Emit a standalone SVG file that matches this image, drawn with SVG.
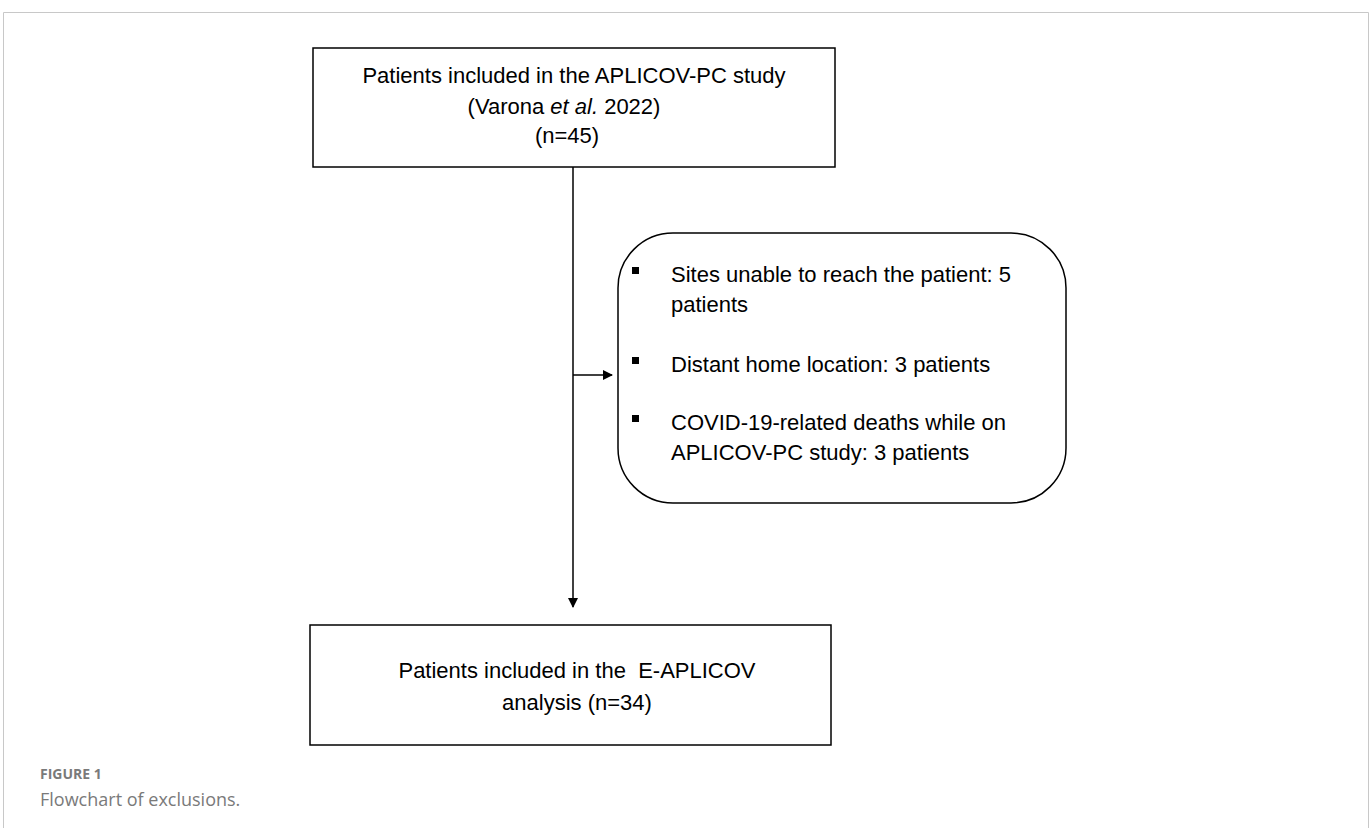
<svg xmlns="http://www.w3.org/2000/svg" width="1372" height="828" viewBox="0 0 1372 828">
<style>
.box{fill:#fff;stroke:#000;stroke-width:1.5}
.t{font-family:"Liberation Sans",Arial,sans-serif;font-size:22px;fill:#000}
.c{text-anchor:middle}
.ln{stroke:#000;stroke-width:1.5;fill:none}
</style>
<defs>
<marker id="ah" markerWidth="10" markerHeight="10" refX="9" refY="5" orient="auto" markerUnits="userSpaceOnUse">
<path d="M0,0 L10,5 L0,10 z" fill="#000"/>
</marker>
</defs>
<rect width="1372" height="828" fill="#fff"/>
<path d="M3.5,828 V12.5 H1368.5 V828" fill="none" stroke="#c8c8c8" stroke-width="1"/>
<g id="connectors">
<line class="ln" x1="573" y1="167" x2="573" y2="607" marker-end="url(#ah)"/>
<line class="ln" x1="573" y1="375" x2="612" y2="375" marker-end="url(#ah)"/>
</g>
<g id="node-top">
<rect class="box" x="313" y="48" width="522" height="119"/>
<text class="t c" x="574" y="83">Patients included in the APLICOV-PC study</text>
<text class="t c" x="564" y="114">(Varona <tspan font-style="italic">et al.</tspan> 2022)</text>
<text class="t c" x="567" y="143">(n=45)</text>
</g>
<g id="node-exclusions">
<rect class="box" x="618" y="233" width="448" height="270" rx="55" ry="55"/>
<rect x="632" y="267" width="7" height="7" fill="#000"/>
<rect x="632" y="357" width="7" height="7" fill="#000"/>
<rect x="632" y="415" width="7" height="7" fill="#000"/>
<text class="t" x="671" y="282">Sites unable to reach the patient: 5</text>
<text class="t" x="671" y="312">patients</text>
<text class="t" x="671" y="372">Distant home location: 3 patients</text>
<text class="t" x="671" y="430">COVID-19-related deaths while on</text>
<text class="t" x="671" y="460">APLICOV-PC study: 3 patients</text>
</g>
<g id="node-bottom">
<rect class="box" x="310" y="625" width="521" height="120"/>
<text class="t c" x="577" y="678">Patients included in the&#160; E-APLICOV</text>
<text class="t c" x="577" y="710">analysis (n=34)</text>
</g>
<g id="caption">
<text x="40" y="779" font-family="'Open Sans','Liberation Sans',sans-serif" font-size="14" font-weight="bold" fill="#7a7a7a">FIGURE 1</text>
<text x="40" y="806" font-family="'Open Sans','Liberation Sans',sans-serif" font-size="18" fill="#7a7a7a">Flowchart of exclusions.</text>
</g>
</svg>
